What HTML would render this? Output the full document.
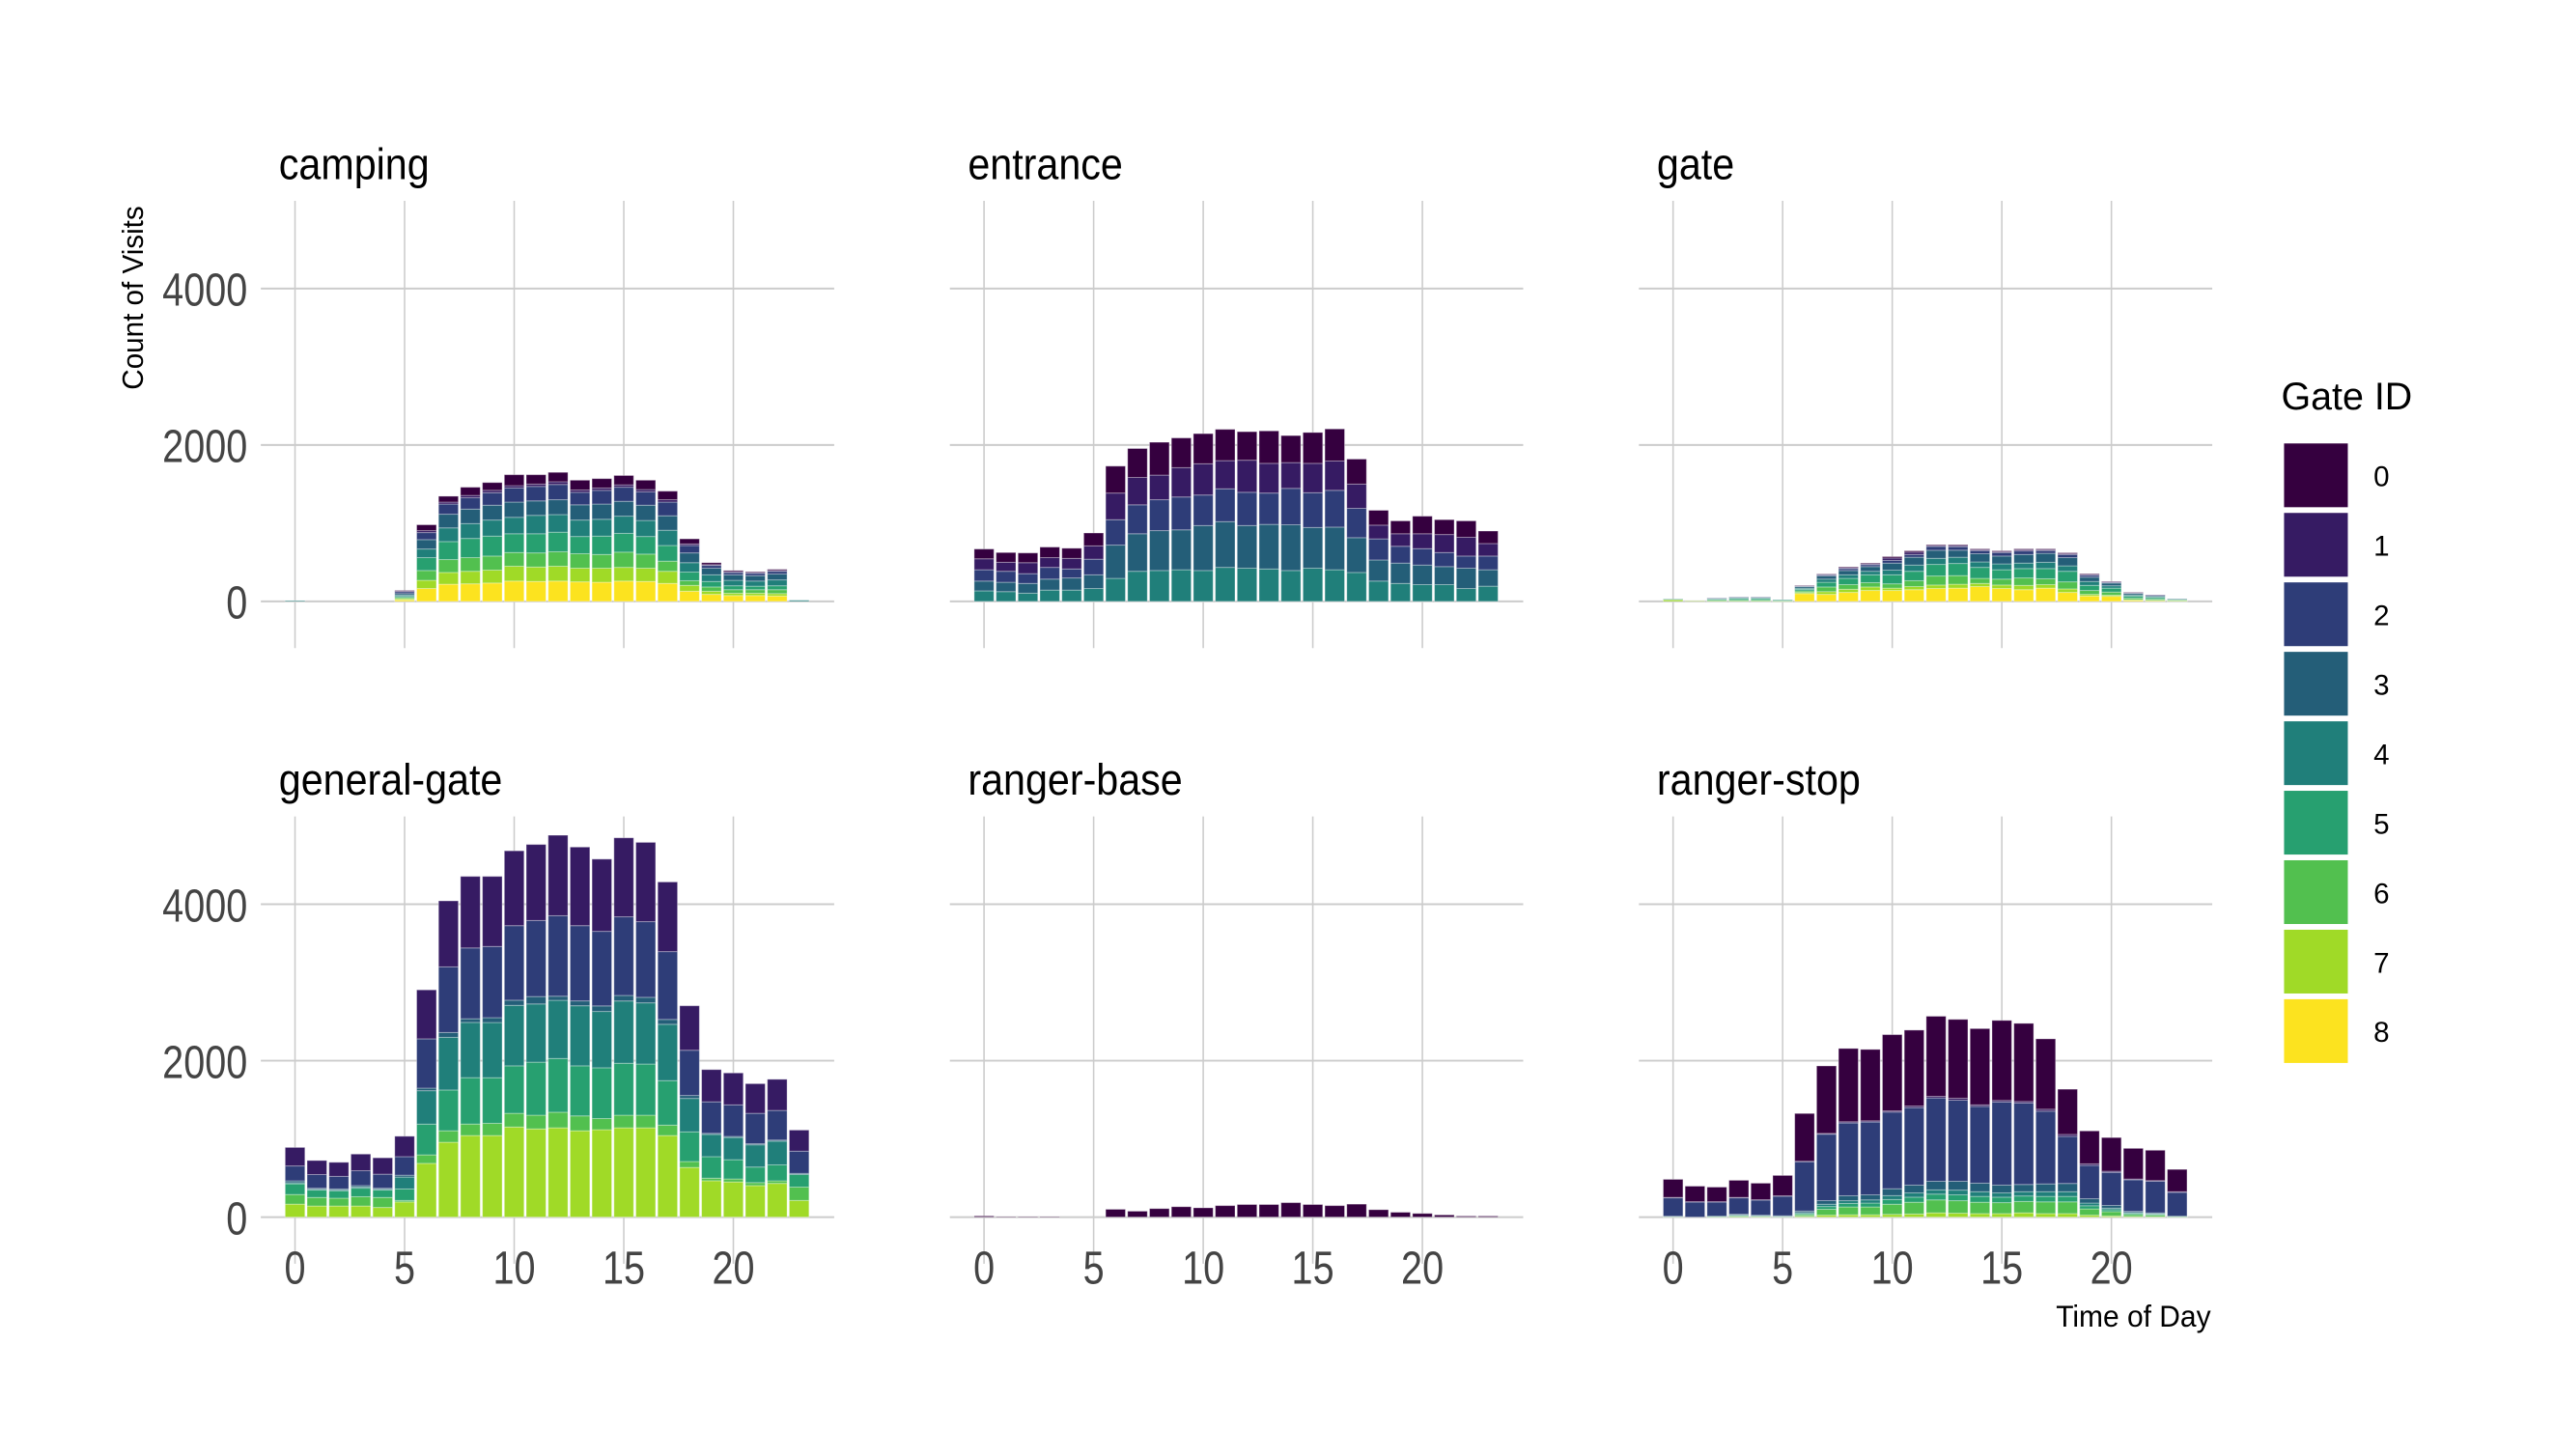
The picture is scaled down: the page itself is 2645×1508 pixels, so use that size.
<!DOCTYPE html>
<html><head><meta charset="utf-8"><style>
html,body{margin:0;padding:0;background:#fff;}
svg{display:block;}
text{font-family:"Liberation Sans",sans-serif;}
</style></head><body>
<svg id="chart" width="2645" height="1508" viewBox="0 0 2645 1508" xmlns="http://www.w3.org/2000/svg">
<rect width="2645" height="1508" fill="#fff"/>
<g id="root" transform="scale(0.9856)">
<g id="grid"></g><g id="bars"></g><g id="labels"></g>
<text transform="translate(150,313) rotate(-90) scale(0.97,1)" text-anchor="middle" font-size="31" fill="#000">Count of Visits</text>
<text transform="translate(2323,1394) scale(0.95,1)" text-anchor="end" font-size="32" fill="#000">Time of Day</text>
<g id="legend">
<text x="2397" y="430" font-size="40" fill="#000">Gate ID</text>
</g>
</g>
</svg>
<script>
const hours = [0,1,2,3,4,5,6,7,8,9,10,11,12,13,14,15,16,17,18,19,20,21,22,23];
const gateIds = [0,1,2,3,4,5,6,7,8];
const gateColors = ["#35003f","#361b63","#2e3d78","#245e78","#207f7a","#27a070","#52c04f","#a0da27","#fce31f"];
const panelNames = ["camping","entrance","gate","general-gate","ranger-base","ranger-stop"];
const yTicks = [0,2000,4000];
const yTickLabels = ["0","2000","4000"];
const xTicks = [0,5,10,15,20];
const xTickLabels = ["0","5","10","15","20"];
const Z = [0,0,0,0,0,0,0,0,0,0,0,0,0,0,0,0,0,0,0,0,0,0,0,0];

// camping
const camping_g0 = [0,0,0,0,0,10,75,75,105,100,140,120,120,125,120,120,120,110,65,25,15,10,15,0];
const camping_g1 = [0,0,0,0,0,5,25,25,30,30,30,30,35,30,30,30,30,30,20,10,10,10,10,0];
const camping_g2 = [0,0,0,0,0,25,90,130,145,160,180,185,195,160,175,180,170,175,95,35,30,30,35,0];
const camping_g3 = [0,0,0,0,0,20,120,175,185,190,195,185,190,195,195,190,195,185,125,85,70,70,75,0];
const camping_g4 = [10,0,0,0,0,15,110,175,190,205,210,235,225,210,215,220,205,195,120,85,70,65,75,15];
const camping_g5 = [0,0,0,0,0,15,165,230,245,255,240,245,250,220,235,240,225,200,110,70,50,45,50,0];
const camping_g6 = [0,0,0,0,0,15,125,165,175,180,175,180,185,185,175,195,180,130,60,55,45,45,50,0];
const camping_g7 = [0,0,0,0,0,15,105,150,160,165,190,185,190,175,180,175,170,155,75,40,30,30,30,0];
const camping_g8 = [0,0,0,0,0,20,165,220,225,235,260,255,260,250,245,260,255,230,130,90,75,75,70,0];
// entrance
const entrance_g0 = [125,125,125,135,130,165,345,370,420,380,385,400,365,415,345,395,410,320,190,165,225,190,210,160];
const entrance_g1 = [140,115,140,125,135,170,340,350,315,375,400,360,410,380,330,375,375,310,175,160,190,230,240,160];
const entrance_g2 = [145,140,125,150,115,200,325,370,395,420,390,420,425,400,465,445,470,375,270,215,210,180,155,175];
const entrance_g3 = [125,120,125,140,155,175,425,480,510,510,575,585,545,570,585,520,545,445,270,260,250,230,260,210];
const entrance_g4 = [135,125,105,145,145,165,295,385,395,405,395,435,425,415,395,425,405,370,260,230,215,215,165,195];
// gate
const gate_g0 = [0,0,0,0,0,0,2,5,11,10,18,17,10,10,12,12,12,12,12,9,5,4,0,0];
const gate_g1 = [0,0,0,0,0,0,2,5,10,10,30,30,12,15,10,10,15,10,10,10,5,3,2,0];
const gate_g2 = [0,0,1,2,2,0,8,15,25,25,35,35,49,45,40,45,45,35,40,25,10,5,5,0];
const gate_g3 = [0,0,5,7,7,0,20,40,55,60,90,100,103,90,105,100,110,115,105,55,35,20,15,5];
const gate_g4 = [2,0,5,10,10,3,15,40,45,45,60,80,78,80,70,75,70,80,70,50,30,15,10,5];
const gate_g5 = [2,0,15,20,20,10,20,60,80,100,115,120,148,155,140,120,120,130,135,65,50,25,20,5];
const gate_g6 = [0,0,10,10,10,5,20,60,60,55,55,75,115,110,65,75,95,75,90,50,40,20,15,10];
const gate_g7 = [25,4,5,5,5,3,15,35,40,45,30,40,45,50,40,45,55,45,45,20,15,8,5,3];
const gate_g8 = [0,0,0,0,0,0,100,90,115,140,140,150,165,170,190,165,150,170,115,70,65,15,10,5];
// general-gate
const general_g1 = [237,180,180,213,209,261,626,844,915,896,957,972,1029,1005,924,1010,1014,891,569,412,408,379,398,270];
const general_g2 = [190,175,161,190,180,237,630,839,905,910,953,972,1029,962,953,1005,967,867,578,403,403,389,379,284];
const general_g3 = [24,14,14,19,14,24,33,62,47,62,66,95,52,62,71,71,71,62,38,14,14,14,14,14];
const general_g4 = [14,9,9,14,9,152,427,673,706,706,773,744,744,768,720,796,782,720,427,284,284,284,303,0];
const general_g5 = [137,95,95,109,95,147,393,521,593,583,607,678,687,640,649,664,654,569,379,275,246,199,204,161];
const general_g6 = [123,109,100,119,128,19,109,147,147,156,175,175,199,190,142,161,161,133,76,33,38,38,33,171];
const general_g7 = [166,142,142,142,123,194,687,957,1043,1043,1152,1128,1142,1104,1118,1142,1142,1043,635,465,450,403,431,213];
// ranger-base
const rbase_g0 = [15,5,5,5,0,0,100,76,109,133,119,147,161,161,185,161,147,166,95,62,47,28,14,14];
// ranger-stop
const rstop_g0 = [231,198,186,219,211,260,611,863,937,913,975,971,1024,1008,975,1024,999,900,578,421,430,392,388,285];
const rstop_g1 = [5,5,5,5,5,5,5,10,15,15,15,20,20,25,20,20,20,25,25,20,15,10,8,8];
const rstop_g2 = [235,193,181,210,193,251,631,849,931,931,980,991,1066,1037,981,1062,1041,929,602,426,423,403,405,305];
const rstop_g3 = [2,0,0,10,7,4,20,46,63,65,88,99,110,113,109,99,92,100,105,55,34,16,10,0];
const rstop_g4 = [2,0,3,6,5,4,13,30,35,40,50,55,54,60,60,55,55,60,60,35,20,10,8,3];
const rstop_g5 = [3,0,3,8,5,4,15,35,45,50,60,65,74,75,75,70,70,70,70,40,25,15,10,3];
const rstop_g6 = [0,0,3,10,5,5,20,75,100,100,130,150,165,160,145,140,145,150,150,80,55,25,20,3];
const rstop_g7 = [5,0,3,3,3,0,10,25,30,30,35,40,55,50,45,45,55,45,45,25,15,8,6,3];

const panelSeries = [
  [camping_g0,camping_g1,camping_g2,camping_g3,camping_g4,camping_g5,camping_g6,camping_g7,camping_g8],
  [entrance_g0,entrance_g1,entrance_g2,entrance_g3,entrance_g4,Z,Z,Z,Z],
  [gate_g0,gate_g1,gate_g2,gate_g3,gate_g4,gate_g5,gate_g6,gate_g7,gate_g8],
  [Z,general_g1,general_g2,general_g3,general_g4,general_g5,general_g6,general_g7,Z],
  [rbase_g0,Z,Z,Z,Z,Z,Z,Z,Z],
  [rstop_g0,rstop_g1,rstop_g2,rstop_g3,rstop_g4,rstop_g5,rstop_g6,rstop_g7,Z]
];

const NS = "http://www.w3.org/2000/svg";
const colX0 = [310,1034,1758];
const rowY0 = [632,1279];
const pxPerHour = 23.03;
const pxPerCount = 164.4/2000;
function mk(tag, attrs, parent){
  const e = document.createElementNS(NS, tag);
  for (const k in attrs) e.setAttribute(k, attrs[k]);
  parent.appendChild(e); return e;
}
const gGrid = document.getElementById('grid');
const gBars = document.getElementById('bars');
const gLab = document.getElementById('labels');

panelNames.forEach((name, p) => {
  const col = p % 3, row = Math.floor(p / 3);
  const x0 = colX0[col], y0 = rowY0[row];
  const xs = h => x0 + h * pxPerHour;
  const ys = v => y0 - v * pxPerCount;
  const left = xs(-1.56), right = xs(24.6);
  const top = y0 - 421, bottom = y0 + 49;
  const panel = mk('g', {}, gGrid);
  
  
  yTicks.forEach(t => {
    const l = mk('line', {x1:left, x2:right, y1:ys(t), y2:ys(t), stroke:'#cccccc', 'stroke-width':2}, panel);
    
    
  });
  xTicks.forEach(t => {
    const l = mk('line', {x1:xs(t), x2:xs(t), y1:top, y2:bottom, stroke:'#cccccc', 'stroke-width':1.6}, panel);
    
    
  });
  const title = mk('text', {transform:'translate(' + (x0-17) + ',' + (y0-444) + ') scale(0.91,1)', 'font-size':46, fill:'#000'}, gLab);
  title.textContent = name;
  
  
  if (col === 0) {
    yTicks.forEach((t, i) => {
      const tx = mk('text', {transform:'translate(260,' + (ys(t)+18) + ') scale(0.82,1)', 'text-anchor':'end', 'font-size':49, fill:'#444'}, gLab);
      tx.textContent = yTickLabels[i];
      
      
    });
  }
  if (row === 1) {
    xTicks.forEach((t, i) => {
      const tx = mk('text', {transform:'translate(' + xs(t) + ',' + (y0+70) + ') scale(0.82,1)', 'text-anchor':'middle', 'font-size':49, fill:'#444'}, gLab);
      tx.textContent = xTickLabels[i];
      
      
    });
  }
  const series = panelSeries[p];
  const bw = pxPerHour * 0.9;
  hours.forEach((h, i) => {
    let cum = 0;
    for (let g = 8; g >= 0; g--) {
      const v = series[g][i];
      if (!v) continue;
      const yTop = ys(cum + v), yBot = ys(cum);
      const r = mk('rect', {x:xs(h)-bw/2, y:yTop, width:bw, height:Math.max(yBot-yTop,0.5), fill:gateColors[g], stroke:'rgba(255,255,255,0.35)', 'stroke-width':1}, gBars);
      
      
      cum += v;
    }
  });
});

const gLeg = document.getElementById('legend');
gateIds.forEach((g, i) => {
  const y = 466 + i * 73;
  const r = mk('rect', {x:2400, y:y, width:67, height:67, fill:gateColors[i]}, gLeg);
  
  
  const t = mk('text', {x:2494, y:y+45, 'font-size':30, fill:'#000'}, gLeg);
  t.textContent = String(g);
  
  
});
</script>
</body></html>
